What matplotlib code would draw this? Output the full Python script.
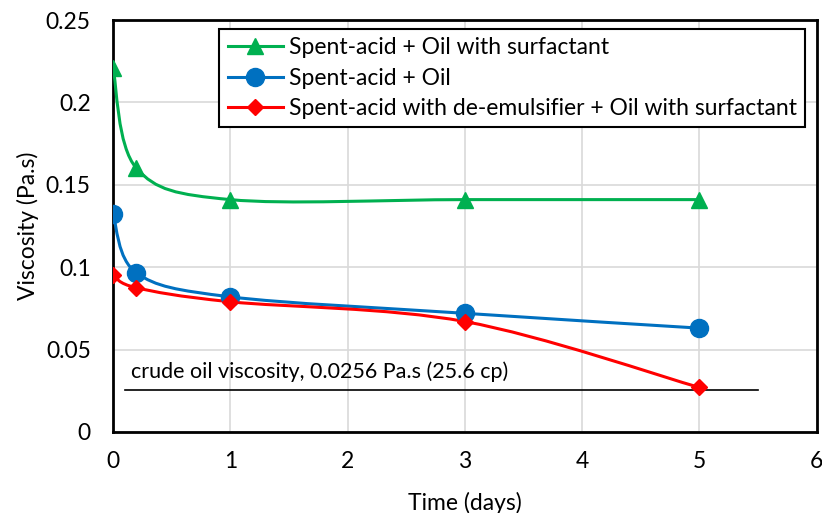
import numpy as np
import matplotlib.pyplot as plt
from matplotlib.path import Path
from matplotlib.patches import PathPatch
from matplotlib.lines import Line2D

plt.rcParams['font.family'] = ['Lato', 'DejaVu Sans']

time = [0, 0.2, 1, 3, 5]
visc_surf = [0.221, 0.160, 0.141, 0.141, 0.141]
visc_oil = [0.132, 0.0965, 0.082, 0.072, 0.063]
visc_demul = [0.095, 0.0875, 0.079, 0.067, 0.027]
crude_visc = 0.0256
crude_x = [0.1, 5.5]

labels = ["Spent-acid + Oil with surfactant",
          "Spent-acid + Oil",
          "Spent-acid with de-emulsifier + Oil with surfactant"]
colors = ["#00B050", "#0070C0", "#FF0000"]
markers = ["^", "o", "D"]
msizes = [12, 13, 8.5]


def smooth_path(x, y):
    """Bezier path like the Excel smoothed line (Catmull-Rom)"""
    p = np.column_stack([x, y]).astype(float)
    ext = np.vstack([p[0], p, p[-1]])
    verts = [p[0]]
    codes = [Path.MOVETO]
    for i in range(len(p) - 1):
        p0, p1, p2, p3 = ext[i], ext[i + 1], ext[i + 2], ext[i + 3]
        c1 = p1 + (p2 - p0) / 6
        c2 = p2 - (p3 - p1) / 6
        verts += [c1, c2, p2]
        codes += [Path.CURVE4] * 3
    return Path(verts, codes)


fig = plt.figure(figsize=(8.22, 5.13), dpi=100)
ax = fig.add_axes([0.1375, 0.158, 0.856, 0.803])

handles = []
for ys, c, m, ms, lab in zip([visc_surf, visc_oil, visc_demul], colors, markers, msizes, labels):
    ax.add_patch(PathPatch(smooth_path(time, ys), facecolor='none', edgecolor=c, lw=2.2, zorder=3))
    ax.plot(time, ys, linestyle='none', marker=m, color=c, markersize=ms, zorder=4)
    handles.append(Line2D([], [], color=c, lw=2.2, marker=m, markersize=ms, label=lab))

ax.plot(crude_x, [crude_visc, crude_visc], color='black', lw=1.2, zorder=2)
ax.text(0.15, crude_visc + 0.0045, "crude oil viscosity, 0.0256 Pa.s (25.6 cp)", fontsize=15.5, va='bottom')

ax.set_xlim(0, 6)
ax.set_ylim(0, 0.25)
ax.set_xticks(range(0, 7))
ax.set_yticks([0, 0.05, 0.1, 0.15, 0.2, 0.25])
ax.set_yticklabels(["0", "0.05", "0.1", "0.15", "0.2", "0.25"])
ax.tick_params(labelsize=16.5, length=0)
ax.tick_params(axis='y', pad=16)
ax.tick_params(axis='x', pad=14)
ax.grid(True, color='#d9d9d9', lw=1.2, zorder=0)
ax.set_axisbelow(True)
for s in ax.spines.values():
    s.set_linewidth(2)
    s.set_color('black')

ax.set_xlabel("Time (days)", fontsize=16.5, labelpad=14)
ax.set_ylabel("Viscosity (Pa.s)", fontsize=16.5, labelpad=5)

leg = ax.legend(handles=handles, loc='upper right', bbox_to_anchor=(0.984, 0.978),
                fontsize=16.5, frameon=True, fancybox=False, edgecolor='black',
                framealpha=1, handlelength=2.4, borderpad=0.35, labelspacing=0.42,
                handletextpad=0.3, borderaxespad=0)
leg.get_frame().set_linewidth(1.5)

plt.savefig("out.png", dpi=100)
